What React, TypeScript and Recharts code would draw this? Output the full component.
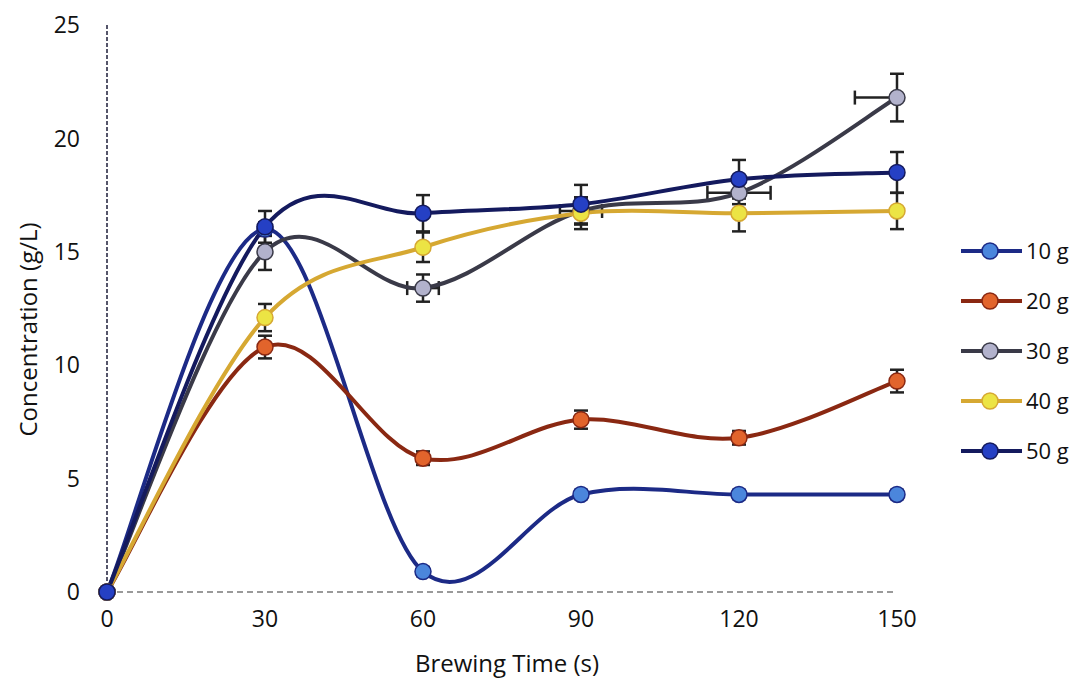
import React from 'react';
import { ComposedChart, Line, Scatter, XAxis, YAxis, ErrorBar, Legend } from 'recharts';

if (typeof document !== 'undefined') document.body.style.margin = '0';

const times = [0, 30, 60, 90, 120, 150];

const g10 = [0, 16.0, 0.9, 4.3, 4.3, 4.3];
const g20 = [0, 10.8, 5.9, 7.6, 6.8, 9.3];
const g30 = [0, 15.0, 13.4, 16.8, 17.6, 21.8];
const g40 = [0, 12.1, 15.2, 16.7, 16.7, 16.8];
const g50 = [0, 16.1, 16.7, 17.1, 18.2, 18.5];

const err10 = [0, 0.3, 0.2, 0.2, 0.2, 0.2];
const err20 = [0, 0.5, 0.3, 0.4, 0.3, 0.5];
const err30 = [0, 0.8, 0.6, 0.6, 0.5, 1.05];
const err40 = [0, 0.6, 0.65, 0.7, 0.8, 0.8];
const err50 = [0, 0.7, 0.8, 0.85, 0.85, 0.9];
// horizontal error (s) for the 30 g series
const xerr30: [number, number][] = [[0, 0], [0, 0], [3, 3], [4, 4], [6, 6], [8, 0]];

const yTicks = [0, 5, 10, 15, 20, 25];

const series = [
  { key: 'g10', name: '10 g', line: '#1c2a86', fill: '#4b86dc', err: 'e10' },
  { key: 'g20', name: '20 g', line: '#8a2812', fill: '#e2642c', err: 'e20' },
  { key: 'g30', name: '30 g', line: '#3a3a48', fill: '#b2b2cc', err: 'e30' },
  { key: 'g40', name: '40 g', line: '#d6a832', fill: '#ece444', err: 'e40' },
  { key: 'g50', name: '50 g', line: '#141a5e', fill: '#2540c4', err: 'e50' },
];

const rows = times.map((t, i) => ({
  time: t,
  g10: g10[i], g20: g20[i], g30: g30[i], g40: g40[i], g50: g50[i],
  e10: err10[i], e20: err20[i], e30: err30[i], e40: err40[i], e50: err50[i],
  x30: xerr30[i],
}));

// Excel-style smoothed line (uniform Catmull-Rom as bezier)
const excelSmooth = (context: any) => {
  let pts: number[][] = [];
  return {
    areaStart() {},
    areaEnd() {},
    lineStart() { pts = []; },
    point(x: number, y: number) { pts.push([+x, +y]); },
    lineEnd() {
      if (!pts.length) return;
      context.moveTo(pts[0][0], pts[0][1]);
      for (let i = 0; i < pts.length - 1; i++) {
        const p0 = pts[i - 1] || pts[i];
        const p1 = pts[i];
        const p2 = pts[i + 1];
        const p3 = pts[i + 2] || p2;
        context.bezierCurveTo(
          p1[0] + (p2[0] - p0[0]) / 6, p1[1] + (p2[1] - p0[1]) / 6,
          p2[0] - (p3[0] - p1[0]) / 6, p2[1] - (p3[1] - p1[1]) / 6,
          p2[0], p2[1]
        );
      }
    },
  };
};

const font = '"Open Sans", sans-serif';

const LegendBox = () => (
  <svg width={130} height={250}>
    {series.map((s, i) => {
      const y = 16 + i * 50;
      return (
        <g key={s.key}>
          <line x1={6} x2={67} y1={y} y2={y} stroke={s.line} strokeWidth={4} />
          <circle cx={35} cy={y} r={8} fill={s.fill} stroke={s.line} strokeWidth={1.5} />
          <text x={71} y={y} dy="0.35em" fontSize={22} fontFamily={font} fill="#111">{s.name}</text>
        </g>
      );
    })}
  </svg>
);

const YTitle = ({ viewBox }: any) => {
  const cy = viewBox.y + viewBox.height / 2 + 21;
  return (
    <text x={27} y={cy} transform={`rotate(-90, 27, ${cy})`} textAnchor="middle" dominantBaseline="central"
      fontSize={24} fontFamily={font} fill="#111">
      Concentration (g/L)
    </text>
  );
};

export default function App() {
  return (
    <div style={{ width: 1083, height: 682, background: '#fff' }}>
      <ComposedChart width={1083} height={682} data={rows} margin={{ top: 25, right: 186, left: 0, bottom: 0 }}>
        <XAxis
          dataKey="time"
          type="number"
          domain={[0, 150]}
          ticks={times}
          height={90}
          tickLine={false}
          tickSize={0}
          tickMargin={19}
          axisLine={{ stroke: '#9a9a9a', strokeWidth: 2, strokeDasharray: '6 4' }}
          tick={{ fill: '#111', fontSize: 23, fontFamily: font }}
          label={{ value: 'Brewing Time (s)', position: 'insideBottom', offset: 10, dx: 5, fill: '#111', fontSize: 24, fontFamily: font }}
        />
        <YAxis
          type="number"
          domain={[0, 25]}
          ticks={yTicks}
          width={107}
          tickLine={false}
          tickSize={0}
          tickMargin={27}
          axisLine={{ stroke: '#55556a', strokeWidth: 2, strokeDasharray: '4 2' }}
          tick={{ fill: '#111', fontSize: 23, fontFamily: font }}
          label={<YTitle />}
        />
        <Legend
          verticalAlign="middle"
          layout="horizontal"
          content={() => <LegendBox />}
          wrapperStyle={{ position: 'absolute', left: 955, top: 235, width: 130, height: 250 }}
        />
        <Scatter dataKey="g30" isAnimationActive={false} shape={() => null} legendType="none">
          <ErrorBar dataKey="x30" direction="x" width={7} stroke="#222" strokeWidth={2.5} />
        </Scatter>
        {series.map((s) => (
          <Line
            key={s.key}
            dataKey={s.key}
            name={s.name}
            type={excelSmooth as any}
            stroke={s.line}
            strokeWidth={4}
            dot={{ r: 8, fill: s.fill, stroke: s.line, strokeWidth: 1.5 }}
            activeDot={false}
            isAnimationActive={false}
          >
            <ErrorBar dataKey={s.err} direction="y" width={7} stroke="#222" strokeWidth={2.5} />
          </Line>
        ))}
      </ComposedChart>
    </div>
  );
}
